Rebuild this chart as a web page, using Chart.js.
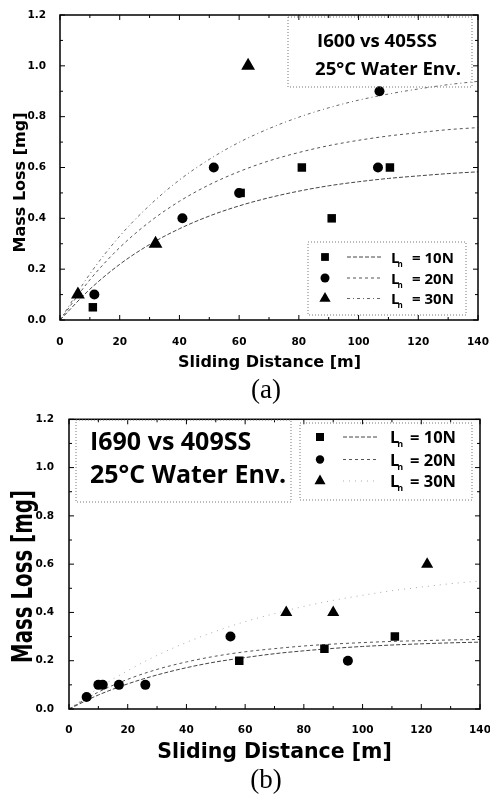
<!DOCTYPE html>
<html>
<head>
<meta charset="utf-8">
<script src="https://cdn.jsdelivr.net/npm/chart.js@4.4.1/dist/chart.umd.min.js"></script>
<style>
html,body{margin:0;padding:0;background:#fff;width:490px;height:796px;overflow:hidden;}
.wrap{position:absolute;left:0;width:490px;}
canvas{display:block;}
</style>
</head>
<body>
<div class="wrap" style="top:0;height:406px"><canvas id="ca" width="490" height="406"></canvas></div>
<div class="wrap" style="top:406px;height:390px"><canvas id="cb" width="490" height="390"></canvas></div>
<script>
// ---------- tick labels ----------
const xTickValues = [0, 20, 40, 60, 80, 100, 120, 140];
const xTickLabels = ['0', '20', '40', '60', '80', '100', '120', '140'];
const yTickValues = [0, 0.2, 0.4, 0.6, 0.8, 1.0, 1.2];
const yTickLabels = ['0.0', '0.2', '0.4', '0.6', '0.8', '1.0', '1.2'];
const seriesLabels = ['10N', '20N', '30N'];

// ---------- (a) I600 vs 405SS ----------
const a10x = [11, 60.5, 81, 91, 110.5];
const a10y = [0.05, 0.5, 0.6, 0.4, 0.6];
const a20x = [11.5, 41, 51.5, 60, 106.5, 107];
const a20y = [0.1, 0.4, 0.6, 0.5, 0.6, 0.9];
const a30x = [6, 32, 63];
const a30y = [0.1, 0.3, 1.0];

// fitted trend curves at these distances
const fitX = [0, 10, 20, 30, 40, 50, 60, 70, 80, 90, 100, 110, 120, 130, 140];
const a10fit = [0, 0.121, 0.219, 0.297, 0.359, 0.409, 0.449, 0.481, 0.507, 0.528, 0.544, 0.557, 0.567, 0.576, 0.583];
const a20fit = [0, 0.158, 0.285, 0.386, 0.467, 0.532, 0.584, 0.626, 0.659, 0.686, 0.707, 0.724, 0.737, 0.749, 0.757];
const a30fit = [0, 0.181, 0.330, 0.451, 0.551, 0.632, 0.699, 0.753, 0.798, 0.835, 0.865, 0.889, 0.909, 0.926, 0.939];

// ---------- (b) I690 vs 409SS ----------
const b10x = [58, 87, 111];
const b10y = [0.2, 0.25, 0.3];
const b20x = [6, 10, 11.5, 17, 26, 55, 95];
const b20y = [0.05, 0.1, 0.1, 0.1, 0.1, 0.3, 0.2];
const b30x = [74, 90, 122];
const b30y = [0.4, 0.4, 0.6];

const b10fit = [0, 0.058, 0.104, 0.141, 0.171, 0.195, 0.213, 0.229, 0.241, 0.251, 0.259, 0.265, 0.270, 0.274, 0.277];
const b20fit = [0, 0.070, 0.123, 0.164, 0.195, 0.219, 0.237, 0.250, 0.261, 0.269, 0.275, 0.280, 0.283, 0.286, 0.288];
const b30fit = [0, 0.086, 0.159, 0.222, 0.276, 0.322, 0.362, 0.395, 0.425, 0.450, 0.471, 0.490, 0.505, 0.519, 0.530];

// ---------- helpers ----------
const TICK_FONT = {family: 'DejaVu Sans', weight: 'bold', size: 10.5};
const NARROW = '"Open Sans", "Liberation Sans", sans-serif';
const WIDE = '"DejaVu Sans", Verdana, sans-serif';

function drawMarker(ctx, style, r, x, y) {
  ctx.save();
  ctx.fillStyle = '#000';
  ctx.strokeStyle = '#000';
  ctx.setLineDash([]);
  if (Chart.helpers && Chart.helpers.drawPoint) {
    Chart.helpers.drawPoint(ctx, {pointStyle: style, radius: r, borderWidth: 0, rotation: 0}, x, y);
  } else {
    ctx.beginPath();
    ctx.arc(x, y, r, 0, Math.PI * 2);
    ctx.fill();
  }
  ctx.restore();
}

function seg(ctx, x1, y1, x2, y2) {
  ctx.beginPath(); ctx.moveTo(x1, y1); ctx.lineTo(x2, y2); ctx.stroke();
}

function makeChart(id, cfg) {
  const datasets = [];
  cfg.series.forEach(s => {
    datasets.push({
      label: s.name,
      data: s.xs.map((x, i) => ({x: x, y: s.ys[i]})),
      pointStyle: s.marker, pointRadius: s.radius, pointHoverRadius: s.radius,
      backgroundColor: '#000', borderColor: '#000', pointBorderWidth: 0,
      showLine: false, order: 1
    });
  });
  cfg.series.forEach(s => {
    datasets.push({
      label: s.name + ' fit',
      data: fitX.map((x, i) => ({x: x, y: s.fit[i]})),
      showLine: true, borderColor: s.lineColor, borderWidth: s.lineWidth, borderDash: s.dash,
      pointRadius: 0, pointHoverRadius: 0, fill: false, cubicInterpolationMode: 'monotone', order: 2
    });
  });

  const deco = {
    id: 'deco',
    afterDraw(chart) {
      const ctx = chart.ctx, a = chart.chartArea, xs = chart.scales.x, ys = chart.scales.y;
      ctx.save();
      ctx.setLineDash([]);
      ctx.strokeStyle = '#000';
      // inward ticks on all four sides
      ctx.lineWidth = 1;
      for (let i = 0; i < xTickValues.length; i++) {
        const px = xs.getPixelForValue(xTickValues[i]);
        seg(ctx, px, a.bottom, px, a.bottom - 5);
        seg(ctx, px, a.top, px, a.top + 5);
        if (i < xTickValues.length - 1) {
          const mx = xs.getPixelForValue((xTickValues[i] + xTickValues[i + 1]) / 2);
          seg(ctx, mx, a.bottom, mx, a.bottom - 3);
          seg(ctx, mx, a.top, mx, a.top + 3);
        }
      }
      for (let i = 0; i < yTickValues.length; i++) {
        const py = ys.getPixelForValue(yTickValues[i]);
        seg(ctx, a.left, py, a.left + 5, py);
        seg(ctx, a.right, py, a.right - 5, py);
        if (i < yTickValues.length - 1) {
          const my = ys.getPixelForValue((yTickValues[i] + yTickValues[i + 1]) / 2);
          seg(ctx, a.left, my, a.left + 3, my);
          seg(ctx, a.right, my, a.right - 3, my);
        }
      }
      // frame
      ctx.lineWidth = cfg.frameWidth;
      ctx.strokeRect(a.left, a.top, a.right - a.left, a.bottom - a.top);

      // page-coordinate decorations
      ctx.translate(0, -cfg.pageTop);
      ctx.fillStyle = '#000';

      // annotation box
      const nb = cfg.note;
      ctx.save();
      ctx.strokeStyle = '#777'; ctx.lineWidth = 1; ctx.setLineDash([1, 2]);
      ctx.strokeRect(nb.x1, nb.y1, nb.x2 - nb.x1, nb.y2 - nb.y1);
      ctx.restore();
      ctx.textAlign = 'left'; ctx.textBaseline = 'alphabetic';
      ctx.font = 'bold ' + nb.size + 'px ' + NARROW;
      ctx.fillText(nb.line1, nb.tx1, nb.b1);
      ctx.fillText(nb.line2, nb.tx2, nb.b2);

      // legend
      const lg = cfg.legend;
      ctx.save();
      ctx.strokeStyle = '#777'; ctx.lineWidth = 1; ctx.setLineDash([1, 2]);
      ctx.strokeRect(lg.x1, lg.y1, lg.x2 - lg.x1, lg.y2 - lg.y1);
      ctx.restore();
      cfg.series.forEach((s, k) => {
        const ry = lg.rows[k];
        drawMarker(ctx, s.marker, lg.mr[k], lg.mx, ry);
        ctx.save();
        ctx.strokeStyle = s.lineColor; ctx.lineWidth = s.lineWidth; ctx.setLineDash(s.dash);
        seg(ctx, lg.l1, ry, lg.l2, ry);
        ctx.restore();
        const base = ry + lg.bo;
        ctx.font = 'bold ' + lg.size + 'px ' + NARROW;
        ctx.fillText('L', lg.lx, base);
        const lw = ctx.measureText('L').width;
        ctx.font = 'bold ' + Math.round(lg.size * 0.55) + 'px ' + NARROW;
        ctx.fillText('n', lg.lx + lw - 2, base + 4);
        ctx.font = 'bold ' + lg.size + 'px ' + NARROW;
        ctx.fillText('= ' + s.name, lg.ex, base);
      });

      // axis titles
      const t = cfg.titles;
      ctx.font = 'bold ' + t.xSize + 'px ' + WIDE;
      ctx.textAlign = 'center';
      ctx.fillText('Sliding Distance [m]', t.xcx, t.xby);
      ctx.save();
      ctx.translate(t.ybx, t.ycy);
      ctx.rotate(-Math.PI / 2);
      ctx.scale(1, t.yStretch);
      ctx.font = 'bold ' + t.ySize + 'px ' + WIDE;
      ctx.fillText('Mass Loss [mg]', 0, 0);
      ctx.restore();

      // caption
      ctx.font = cfg.caption.size + 'px "Liberation Serif", "Times New Roman", serif';
      ctx.textAlign = 'center';
      ctx.fillText(cfg.caption.text, cfg.caption.x, cfg.caption.y);
      ctx.restore();
    }
  };

  return new Chart(document.getElementById(id), {
    type: 'scatter',
    data: {datasets: datasets},
    plugins: [deco],
    options: {
      responsive: false, animation: false, events: [],
      layout: {padding: {left: 0, top: cfg.padTop, right: cfg.padRight, bottom: 0}},
      plugins: {legend: {display: false}, tooltip: {enabled: false}},
      scales: {
        x: {
          type: 'linear', min: 0, max: 140,
          afterBuildTicks: s => { s.ticks = xTickValues.map(v => ({value: v})); },
          ticks: {callback: (v, i) => xTickLabels[i], font: TICK_FONT, color: '#000', padding: cfg.xPad, maxRotation: 0, autoSkip: false},
          grid: {display: false}, border: {display: false},
          afterFit: s => { s.height = cfg.xHeight; s.paddingLeft = 0; s.paddingRight = 0; }
        },
        y: {
          type: 'linear', min: 0, max: 1.2,
          afterBuildTicks: s => { s.ticks = yTickValues.map(v => ({value: v})); },
          ticks: {callback: (v, i) => yTickLabels[i], font: TICK_FONT, color: '#000', padding: cfg.yPad, autoSkip: false},
          grid: {display: false}, border: {display: false},
          afterFit: s => { s.width = cfg.yWidth; }
        }
      }
    }
  });
}

// ---------- chart (a) ----------
makeChart('ca', {
  pageTop: 0, padTop: 15, padRight: 12, xHeight: 86, yWidth: 60, xPad: 8, yPad: 6, frameWidth: 1.5,
  series: [
    {name: seriesLabels[0], xs: a10x, ys: a10y, fit: a10fit, marker: 'rect', radius: 6, lineColor: '#444', lineWidth: 1, dash: [4, 2]},
    {name: seriesLabels[1], xs: a20x, ys: a20y, fit: a20fit, marker: 'circle', radius: 5, lineColor: '#555', lineWidth: 1, dash: [3, 3]},
    {name: seriesLabels[2], xs: a30x, ys: a30y, fit: a30fit, marker: 'triangle', radius: 8, lineColor: '#666', lineWidth: 1, dash: [3, 3, 1, 3]}
  ],
  note: {x1: 288, y1: 17, x2: 472, y2: 87, size: 18.6, line1: 'I600 vs 405SS', line2: '25°C Water Env.', tx1: 317, b1: 47, tx2: 315, b2: 75},
  legend: {x1: 308, y1: 242, x2: 466, y2: 315, rows: [257, 278, 298.5], mx: 325, mr: [5.5, 4.5, 6.5], l1: 347, l2: 382, lx: 391, ex: 412, size: 15, bo: 5.5},
  titles: {xSize: 16, xcx: 269.5, xby: 367, ySize: 16, ybx: 25, ycy: 182.5, yStretch: 1},
  caption: {text: '(a)', size: 27, x: 266, y: 398}
});

// ---------- chart (b) ----------
makeChart('cb', {
  pageTop: 406, padTop: 9, padRight: 10, xHeight: 87, yWidth: 69, xPad: 7, yPad: 7, frameWidth: 1.5,
  series: [
    {name: seriesLabels[0], xs: b10x, ys: b10y, fit: b10fit, marker: 'rect', radius: 6, lineColor: '#444', lineWidth: 1, dash: [4, 2]},
    {name: seriesLabels[1], xs: b20x, ys: b20y, fit: b20fit, marker: 'circle', radius: 5, lineColor: '#555', lineWidth: 1, dash: [3, 3]},
    {name: seriesLabels[2], xs: b30x, ys: b30y, fit: b30fit, marker: 'triangle', radius: 7, lineColor: '#aaa', lineWidth: 1, dash: [1, 5]}
  ],
  note: {x1: 76, y1: 420, x2: 291, y2: 502, size: 25, line1: 'I690 vs 409SS', line2: '25°C Water Env.', tx1: 90, b1: 450, tx2: 90, b2: 483},
  legend: {x1: 300, y1: 423, x2: 472, y2: 500, rows: [437, 459.5, 481], mx: 320, mr: [5.7, 4.2, 6.4], l1: 343, l2: 378, lx: 390, ex: 410, size: 16.5, bo: 6},
  titles: {xSize: 20.5, xcx: 274.5, xby: 758, ySize: 19.8, ybx: 32, ycy: 576.5, yStretch: 1.45},
  caption: {text: '(b)', size: 27, x: 266, y: 788}
});
</script>
</body>
</html>
